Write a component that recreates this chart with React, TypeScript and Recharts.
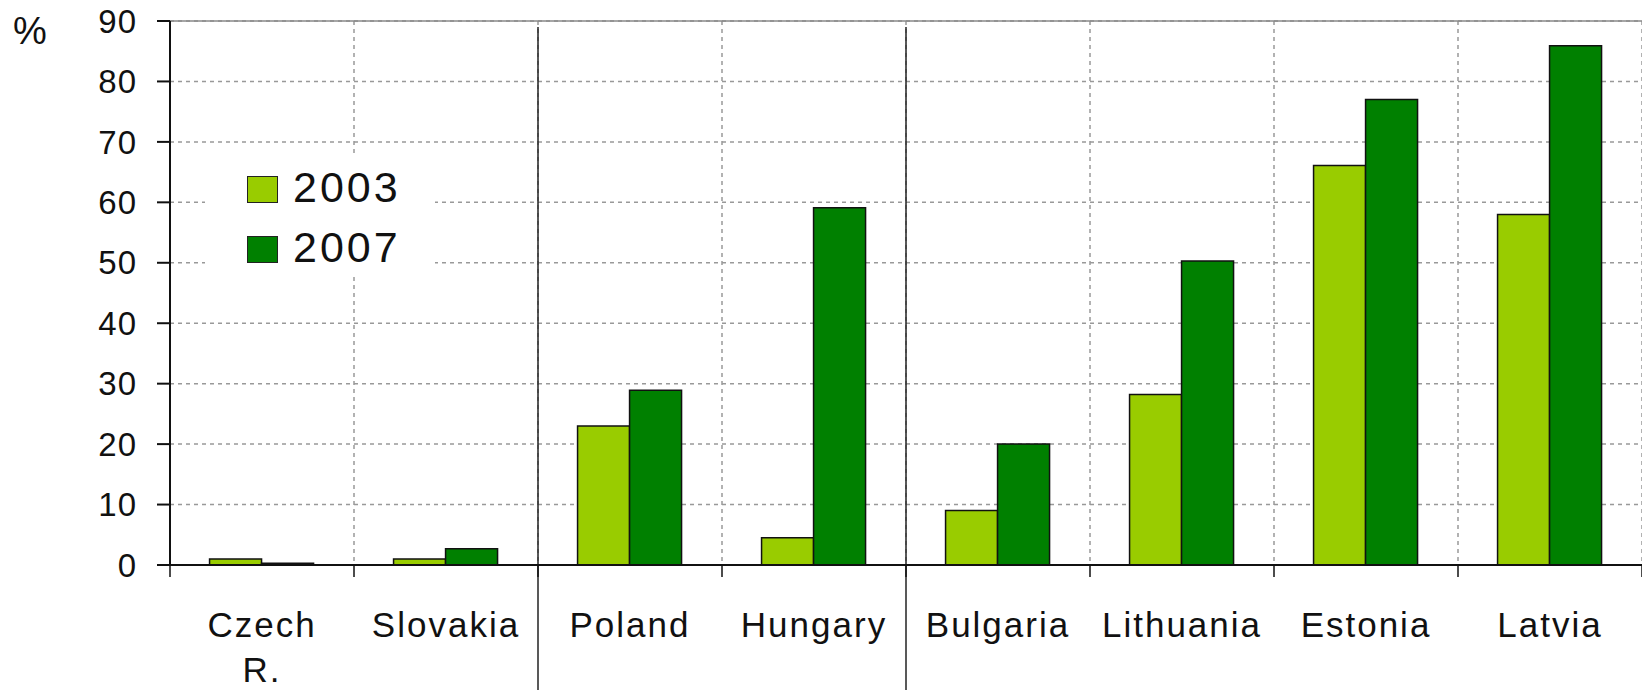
import React from "react";
import {
  BarChart,
  Bar,
  XAxis,
  YAxis,
  CartesianGrid,
  ReferenceLine,
  Legend,
} from "recharts";

const FONT = "'Liberation Sans', Arial, sans-serif";

const countries = [
  "Czech R.",
  "Slovakia",
  "Poland",
  "Hungary",
  "Bulgaria",
  "Lithuania",
  "Estonia",
  "Latvia",
];
const share2003 = [1.0, 1.0, 23.0, 4.5, 9.0, 28.2, 66.1, 58.0];
const share2007 = [0.3, 2.7, 28.9, 59.1, 20.0, 50.3, 77.0, 85.9];
const seriesNames = ["2003", "2007"];
const seriesColors = ["#99cc00", "#008000"];
const yTicks = [0, 10, 20, 30, 40, 50, 60, 70, 80, 90];
const groupBounds = [0, 1, 2, 3, 4, 5, 6, 7, 8];
const groupSeparators = [2, 4];

const data = countries.map((name, i) => ({
  name,
  pos: i + 0.5,
  y2003: share2003[i],
  y2007: share2007[i],
}));

// "Czech R." wraps onto two lines in the original, the rest fit on one
const CountryTick = ({ x, y, payload }: any) => {
  const label: string = payload.value;
  const lines = label.includes(" ") ? label.split(" ") : [label];
  return (
    <text
      x={x}
      y={y + 71}
      textAnchor="middle"
      fill="#111"
      style={{ fontSize: 35, fontFamily: FONT, letterSpacing: 2 }}
    >
      {lines.map((line, i) => (
        <tspan key={line} x={x} dy={i === 0 ? 0 : 45}>
          {line}
        </tspan>
      ))}
    </text>
  );
};

const SeriesKey = () => (
  <div style={{ position: "relative", width: 230, height: 116, fontFamily: FONT }}>
    {seriesNames.map((name, i) => (
      <React.Fragment key={name}>
        <div
          style={{
            position: "absolute",
            left: 42,
            top: 19 + i * 60,
            width: 31,
            height: 27,
            boxSizing: "border-box",
            border: "1.5px solid #222",
            background: seriesColors[i],
          }}
        />
        <div
          style={{
            position: "absolute",
            left: 88,
            top: 9 + i * 60,
            fontSize: 43,
            lineHeight: "43px",
            letterSpacing: 3,
            color: "#111",
          }}
        >
          {name}
        </div>
      </React.Fragment>
    ))}
  </div>
);

export default function App() {
  return (
    <div style={{ position: "absolute", left: 0, top: 0, width: 1642, height: 690, background: "#fff" }}>
      <div
        style={{
          position: "absolute",
          left: 13,
          top: 12,
          fontFamily: FONT,
          fontSize: 38,
          lineHeight: "38px",
          color: "#111",
        }}
      >
        %
      </div>
      <BarChart
        width={1642}
        height={690}
        data={data}
        margin={{ top: 21, right: 0, left: 0, bottom: 0 }}
        barCategoryGap="21.5%"
        barGap={0}
      >
        <CartesianGrid xAxisId="axisA" stroke="#999" strokeWidth={1.5} strokeDasharray="4 4" />
        <XAxis
          xAxisId="axisB"
          dataKey="name"
          height={124}
          axisLine={false}
          tickLine={false}
          tickSize={0}
          tickMargin={0}
          interval={0}
          tick={<CountryTick />}
        />
        <XAxis
          xAxisId="axisA"
          type="number"
          dataKey="pos"
          domain={[0, 8]}
          ticks={groupBounds}
          interval={0}
          height={1}
          tickSize={12}
          tickFormatter={() => ""}
          axisLine={{ stroke: "#111", strokeWidth: 2 }}
          tickLine={{ stroke: "#111", strokeWidth: 1.5 }}
        />
        <YAxis
          domain={[0, 90]}
          ticks={yTicks}
          interval={0}
          width={170}
          tickSize={13}
          tickMargin={20}
          axisLine={{ stroke: "#111", strokeWidth: 2 }}
          tickLine={{ stroke: "#111", strokeWidth: 2 }}
          tick={{ fontSize: 33, fill: "#111", fontFamily: FONT, letterSpacing: 1 }}
        />
        <ReferenceLine xAxisId="axisA" y={90} stroke="#888" strokeWidth={1.5} />
        {groupSeparators.map((s) => (
          <ReferenceLine
            key={s}
            xAxisId="axisA"
            ifOverflow="visible"
            segment={[
              { x: s, y: 89 },
              { x: s, y: -21 },
            ]}
            stroke="#222"
            strokeWidth={1.5}
          />
        ))}
        <Legend
          layout="vertical"
          align="center"
          verticalAlign="middle"
          wrapperStyle={{ left: 205, top: 157, width: 230, height: 116, background: "#fff" }}
          content={() => <SeriesKey />}
        />
        <Bar
          xAxisId="axisB"
          dataKey="y2003"
          name={seriesNames[0]}
          fill={seriesColors[0]}
          stroke="#111"
          strokeWidth={1.5}
          isAnimationActive={false}
        />
        <Bar
          xAxisId="axisB"
          dataKey="y2007"
          name={seriesNames[1]}
          fill={seriesColors[1]}
          stroke="#111"
          strokeWidth={1.5}
          isAnimationActive={false}
        />
      </BarChart>
    </div>
  );
}
